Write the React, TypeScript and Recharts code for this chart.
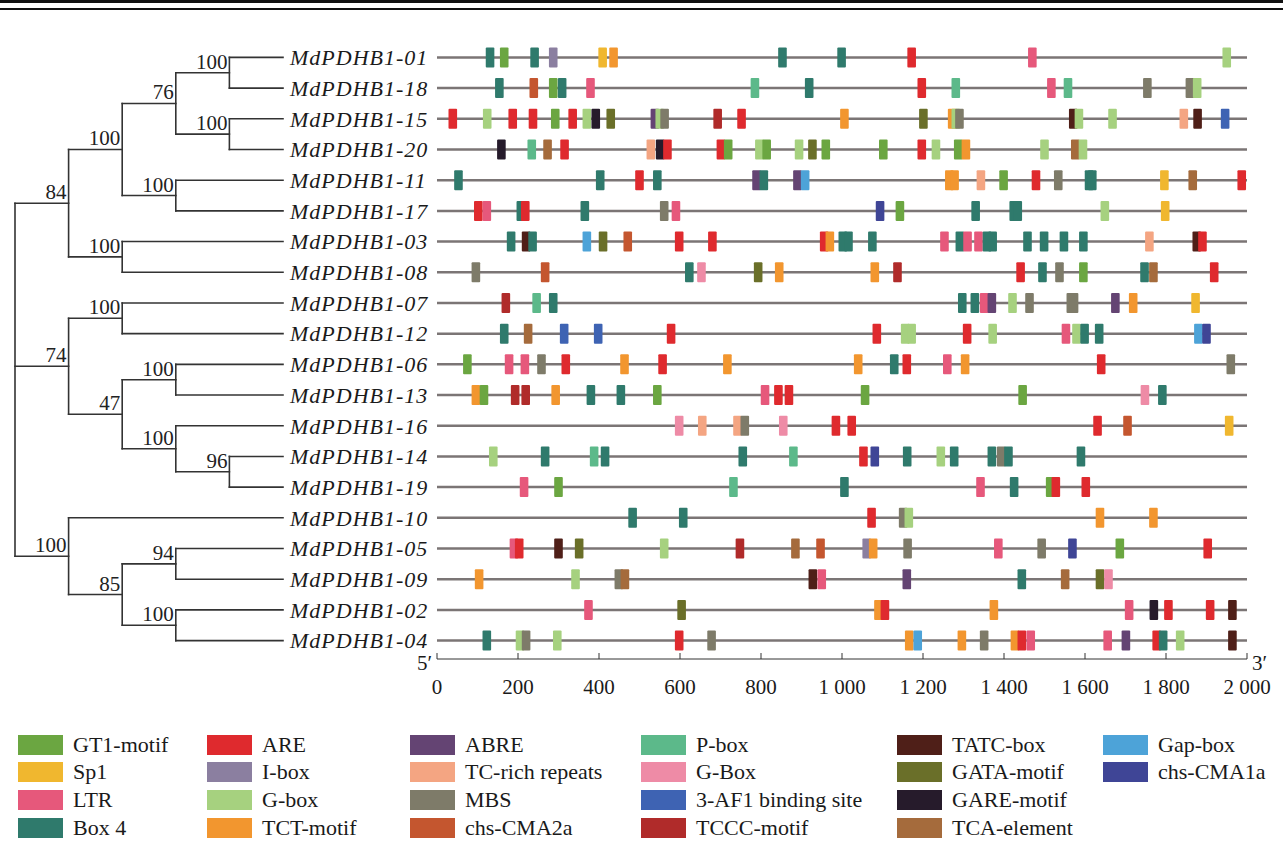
import React from "react";
import {
  ScatterChart,
  Scatter,
  XAxis,
  YAxis,
  CartesianGrid,
  ReferenceLine,
  ReferenceDot,
  Cell,
} from "recharts";

// gene order, top to bottom (tree order)
const GENES = ["01", "18", "15", "20", "11", "17", "03", "08", "07", "12", "06", "13", "16", "14", "19", "10", "05", "09", "02", "04"];

// cis-elements per promoter: [position (bp), element]
const G01 = [[131, "Box4"], [166, "GT1"], [241, "Box4"], [287, "Ibox"], [409, "Sp1"], [436, "TCT"], [853, "Box4"], [999, "Box4"], [1172, "ARE"], [1470, "LTR"], [1950, "Gbox"]];
const G18 = [[154, "Box4"], [239, "CMA2a"], [287, "GT1"], [309, "Box4"], [379, "LTR"], [785, "Pbox"], [919, "Box4"], [1197, "ARE"], [1281, "Pbox"], [1517, "LTR"], [1558, "Pbox"], [1754, "MBS"], [1859, "MBS"], [1877, "Gbox"]];
const G15 = [[39, "ARE"], [124, "Gbox"], [187, "ARE"], [237, "ARE"], [292, "GT1"], [335, "ARE"], [370, "Gbox"], [392, "GARE"], [429, "GATA"], [538, "ABRE"], [550, "Gbox"], [562, "MBS"], [693, "TCCC"], [752, "ARE"], [1006, "TCT"], [1201, "GATA"], [1272, "TCT"], [1281, "Gbox"], [1290, "MBS"], [1571, "TATC"], [1585, "Gbox"], [1668, "Gbox"], [1844, "TCrich"], [1878, "TATC"], [1946, "AF1"]];
const G20 = [[159, "GARE"], [234, "Pbox"], [273, "TCA"], [315, "ARE"], [528, "TCrich"], [551, "GARE"], [569, "ARE"], [701, "ARE"], [719, "GT1"], [796, "Gbox"], [814, "GT1"], [894, "Gbox"], [927, "GATA"], [960, "GT1"], [1102, "GT1"], [1197, "ARE"], [1232, "Gbox"], [1287, "GT1"], [1306, "TCT"], [1500, "Gbox"], [1576, "TCA"], [1595, "Gbox"]];
const G11 = [[53, "Box4"], [403, "Box4"], [500, "ARE"], [544, "Box4"], [789, "ABRE"], [807, "Box4"], [890, "ABRE"], [909, "Gapbox"], [1265, "TCT"], [1278, "TCT"], [1343, "TCrich"], [1399, "GT1"], [1479, "ARE"], [1534, "MBS"], [1610, "Box4"], [1618, "Box4"], [1796, "Sp1"], [1866, "TCA"], [1987, "ARE"]];
const G17 = [[102, "ARE"], [123, "LTR"], [207, "Box4"], [218, "ARE"], [365, "Box4"], [561, "MBS"], [590, "LTR"], [1094, "CMA1a"], [1143, "GT1"], [1330, "Box4"], [1424, "Box4"], [1434, "Box4"], [1649, "Gbox"], [1798, "Sp1"]];
const G03 = [[183, "Box4"], [220, "TATC"], [236, "Box4"], [370, "Gapbox"], [410, "GATA"], [471, "CMA2a"], [598, "ARE"], [680, "ARE"], [956, "ARE"], [970, "TCT"], [1002, "Box4"], [1016, "Box4"], [1075, "Box4"], [1253, "LTR"], [1291, "Box4"], [1310, "LTR"], [1337, "LTR"], [1358, "Box4"], [1372, "Box4"], [1458, "Box4"], [1499, "Box4"], [1548, "Box4"], [1596, "Box4"], [1759, "TCrich"], [1876, "TATC"], [1890, "ARE"]];
const G08 = [[96, "MBS"], [267, "CMA2a"], [623, "Box4"], [653, "GBox"], [793, "GATA"], [845, "TCT"], [1081, "TCT"], [1137, "TCCC"], [1441, "ARE"], [1495, "Box4"], [1537, "MBS"], [1596, "GT1"], [1747, "Box4"], [1769, "TCA"], [1919, "ARE"]];
const G07 = [[170, "TCCC"], [246, "Pbox"], [287, "Box4"], [1297, "Box4"], [1328, "Box4"], [1351, "LTR"], [1370, "ABRE"], [1421, "Gbox"], [1463, "MBS"], [1565, "MBS"], [1573, "MBS"], [1675, "ABRE"], [1719, "TCT"], [1873, "Sp1"]];
const G12 = [[166, "Box4"], [225, "TCA"], [314, "AF1"], [398, "AF1"], [578, "ARE"], [1086, "ARE"], [1156, "Gbox"], [1172, "Gbox"], [1309, "ARE"], [1372, "Gbox"], [1553, "LTR"], [1579, "Gbox"], [1599, "Box4"], [1635, "Box4"], [1880, "Gapbox"], [1900, "CMA1a"]];
const G06 = [[75, "GT1"], [178, "LTR"], [217, "LTR"], [258, "MBS"], [318, "ARE"], [463, "TCT"], [557, "ARE"], [717, "TCT"], [1040, "TCT"], [1129, "Box4"], [1160, "ARE"], [1260, "LTR"], [1304, "TCT"], [1640, "ARE"], [1960, "MBS"]];
const G13 = [[96, "TCT"], [116, "GT1"], [193, "TCCC"], [219, "TCCC"], [293, "TCT"], [380, "Box4"], [454, "Box4"], [544, "GT1"], [810, "LTR"], [843, "ARE"], [869, "ARE"], [1057, "GT1"], [1446, "GT1"], [1748, "GBox"], [1791, "Box4"]];
const G16 = [[598, "GBox"], [655, "TCrich"], [742, "TCrich"], [760, "MBS"], [855, "GBox"], [985, "ARE"], [1024, "ARE"], [1631, "ARE"], [1705, "CMA2a"], [1956, "Sp1"]];
const G14 = [[139, "Gbox"], [267, "Box4"], [388, "Pbox"], [415, "Box4"], [755, "Box4"], [880, "Pbox"], [1053, "ARE"], [1081, "CMA1a"], [1161, "Box4"], [1244, "Gbox"], [1277, "Box4"], [1370, "Box4"], [1393, "MBS"], [1411, "Box4"], [1590, "Box4"]];
const G19 = [[215, "LTR"], [300, "GT1"], [732, "Pbox"], [1006, "Box4"], [1342, "LTR"], [1425, "Box4"], [1528, "ARE"], [1514, "GT1"], [1602, "ARE"]];
const G10 = [[483, "Box4"], [608, "Box4"], [1073, "ARE"], [1151, "MBS"], [1165, "Gbox"], [1637, "TCT"], [1769, "TCT"]];
const G05 = [[190, "LTR"], [203, "ARE"], [300, "TATC"], [351, "GATA"], [561, "Gbox"], [748, "TCCC"], [885, "TCA"], [947, "CMA2a"], [1061, "Ibox"], [1077, "TCT"], [1162, "MBS"], [1386, "LTR"], [1493, "MBS"], [1569, "CMA1a"], [1686, "GT1"], [1903, "ARE"]];
const G09 = [[104, "TCT"], [342, "Gbox"], [449, "MBS"], [464, "TCA"], [928, "TATC"], [950, "LTR"], [1160, "ABRE"], [1444, "Box4"], [1551, "TCA"], [1637, "GATA"], [1658, "GBox"]];
const G02 = [[374, "LTR"], [604, "GATA"], [1090, "TCT"], [1106, "ARE"], [1375, "TCT"], [1709, "LTR"], [1770, "GARE"], [1806, "ARE"], [1909, "ARE"], [1964, "TATC"]];
const G04 = [[123, "Box4"], [205, "Gbox"], [220, "MBS"], [297, "Gbox"], [598, "ARE"], [678, "MBS"], [1166, "TCT"], [1187, "Gapbox"], [1296, "TCT"], [1351, "MBS"], [1427, "TCT"], [1444, "ARE"], [1466, "LTR"], [1656, "LTR"], [1701, "ABRE"], [1777, "ARE"], [1793, "Box4"], [1835, "Gbox"], [1964, "TATC"]];

const GENE_MOTIFS = [G01, G18, G15, G20, G11, G17, G03, G08, G07, G12, G06, G13, G16, G14, G19, G10, G05, G09, G02, G04];

const X_TICKS = [0, 200, 400, 600, 800, 1000, 1200, 1400, 1600, 1800, 2000];

// legend, column by column
const MOTIF_KEYS = ["GT1", "Sp1", "LTR", "Box4", "ARE", "Ibox", "Gbox", "TCT", "ABRE", "TCrich", "MBS", "CMA2a", "Pbox", "GBox", "AF1", "TCCC", "TATC", "GATA", "GARE", "TCA", "Gapbox", "CMA1a"];
const MOTIF_NAMES = ["GT1-motif", "Sp1", "LTR", "Box 4", "ARE", "I-box", "G-box", "TCT-motif", "ABRE", "TC-rich repeats", "MBS", "chs-CMA2a", "P-box", "G-Box", "3-AF1 binding site", "TCCC-motif", "TATC-box", "GATA-motif", "GARE-motif", "TCA-element", "Gap-box", "chs-CMA1a"];

// NJ tree, s = bootstrap
type TNode = { s?: number; c: (TNode | string)[] };
const TREE: TNode = {
  c: [
    { s: 84, c: [
      { s: 100, c: [
        { s: 76, c: [{ s: 100, c: ["01", "18"] }, { s: 100, c: ["15", "20"] }] },
        { s: 100, c: ["11", "17"] },
      ] },
      { s: 100, c: ["03", "08"] },
    ] },
    { s: 74, c: [
      { s: 100, c: ["07", "12"] },
      { s: 47, c: [{ s: 100, c: ["06", "13"] }, { s: 100, c: ["16", { s: 96, c: ["14", "19"] }] }] },
    ] },
    { s: 100, c: ["10", { s: 85, c: [{ s: 94, c: ["05", "09"] }, { s: 100, c: ["02", "04"] }] }] },
  ],
};

const COLORS: Record<string, string> = {
  GT1: "#6BA641", Sp1: "#F0B72F", LTR: "#E6587B", Box4: "#2F7A6C",
  ARE: "#DF2A2E", Ibox: "#8B7FA0", Gbox: "#A6D17F", TCT: "#F2962F",
  ABRE: "#644473", TCrich: "#F4A582", MBS: "#7E7B69", CMA2a: "#C4562F",
  Pbox: "#5CB98A", GBox: "#EE8BA6", AF1: "#3E63B3", TCCC: "#B02B2A",
  TATC: "#4F1F18", GATA: "#6A6F29", GARE: "#261B2B", TCA: "#A56B3C",
  Gapbox: "#4DA3D8", CMA1a: "#3F4596",
};

const FONT = '"Liberation Serif", "Times New Roman", serif';
const Y_DOMAIN: [number, number] = [-0.6, 19.6];
const ROWS = GENES.map((_, i) => i);

const POINTS = GENE_MOTIFS.flatMap((list, row) =>
  list
    .slice()
    .sort((a, b) => (a[0] as number) - (b[0] as number))
    .map(([x, t]) => ({ x: x as number, y: row, t: t as string }))
);

// tree layout: depth on x, row index on y
const LEAF_DEPTH = 5;
const SEGS: { x1: number; y1: number; x2: number; y2: number }[] = [];
const NODES: { x: number; y: number; s: number }[] = [];
function layout(n: TNode | string, depth: number): number {
  if (typeof n === "string") return GENES.indexOf(n);
  const ys = n.c.map((ch) => layout(ch, depth + 1));
  ys.forEach((cy, i) => {
    const x2 = typeof n.c[i] === "string" ? LEAF_DEPTH : depth + 1;
    SEGS.push({ x1: depth, y1: cy, x2, y2: cy });
  });
  SEGS.push({ x1: depth, y1: ys[0], x2: depth, y2: ys[ys.length - 1] });
  const y = (ys[0] + ys[ys.length - 1]) / 2;
  if (n.s !== undefined) NODES.push({ x: depth, y, s: n.s });
  return y;
}
layout(TREE, 0);

const fmtTick = (v: number) =>
  v >= 1000 ? `${Math.floor(v / 1000)} ${String(v % 1000).padStart(3, "0")}` : String(v);

const MotifBox = (p: any) => (
  <rect x={p.cx - 4.3} y={p.cy - 10} width={8.6} height={20} rx={1} fill={p.fill} />
);

const Support = (p: any) => (
  <text x={p.cx - 2} y={p.cy - 4} textAnchor="end" fontSize={21} fontFamily={FONT} fill="#222">
    {p.payload.s}
  </text>
);

const LEG_X = [18, 207, 410, 641, 897, 1103];
const LEG_Y = [734, 761, 789, 817];

export default function App() {
  return (
    <div style={{ position: "relative", width: 1283, height: 842, background: "#fff", fontFamily: FONT, overflow: "hidden" }}>
      <style>{`body{margin:0}`}</style>
      <div style={{ position: "absolute", left: 0, top: 0, width: 1283, height: 3, background: "#111" }} />
      <div style={{ position: "absolute", left: 0, top: 8, width: 1283, height: 1.5, background: "#111" }} />

      <div style={{ position: "absolute", left: 0, top: 0 }}>
        <ScatterChart width={437} height={700} margin={{ top: 39, right: 0, bottom: 41, left: 15 }}>
          <XAxis type="number" dataKey="x" domain={[0, LEAF_DEPTH]} hide />
          <YAxis
            type="number"
            dataKey="y"
            domain={Y_DOMAIN}
            reversed
            orientation="right"
            width={154}
            ticks={ROWS}
            interval={0}
            axisLine={false}
            tickLine={false}
            tickSize={0}
            tickMargin={7}
            tickFormatter={(v: number) => "MdPDHB1-" + GENES[v]}
            tick={{ fontSize: 22, fontStyle: "italic", fill: "#1a1a1a", fontFamily: FONT, letterSpacing: 1 } as any}
          />
          {SEGS.map((s, i) => (
            <ReferenceLine
              key={i}
              segment={[{ x: s.x1, y: s.y1 }, { x: s.x2, y: s.y2 }]}
              stroke="#333"
              strokeWidth={1.6}
              strokeLinecap="square"
            />
          ))}
          <Scatter data={NODES} shape={Support} isAnimationActive={false} />
        </ScatterChart>
      </div>

      <div style={{ position: "absolute", left: 0, top: 0 }}>
        <ScatterChart width={1283} height={700} margin={{ top: 39, right: 36, bottom: 1, left: 437 }}>
          <CartesianGrid vertical={false} horizontalValues={ROWS} stroke="#7b7575" strokeWidth={2.5} />
          <XAxis
            type="number"
            dataKey="x"
            domain={[0, 2000]}
            ticks={X_TICKS}
            interval={0}
            height={40}
            tickSize={-6}
            tickMargin={26}
            tickFormatter={fmtTick}
            stroke="#333"
            tick={{ fontSize: 21, fill: "#1a1a1a", fontFamily: FONT }}
          />
          <YAxis type="number" dataKey="y" domain={Y_DOMAIN} reversed ticks={ROWS} interval={0} hide />
          <ReferenceDot x={0} y={19.6} r={0} ifOverflow="visible"
            label={{ value: "5′", position: "left", dy: 4, fontSize: 21, fill: "#1a1a1a", fontFamily: FONT }} />
          <ReferenceDot x={2000} y={19.6} r={0} ifOverflow="visible"
            label={{ value: "3′", position: "right", dy: 4, fontSize: 21, fill: "#1a1a1a", fontFamily: FONT }} />
          <Scatter data={POINTS} shape={MotifBox} isAnimationActive={false}>
            {POINTS.map((p, i) => (
              <Cell key={i} fill={COLORS[p.t]} />
            ))}
          </Scatter>
        </ScatterChart>
      </div>

      {MOTIF_KEYS.map((k, i) => {
        const col = Math.floor(i / 4);
        const row = i % 4;
        return (
          <div key={k} style={{ position: "absolute", left: LEG_X[col], top: LEG_Y[row], height: 21, display: "flex", alignItems: "center", whiteSpace: "nowrap" }}>
            <div style={{ width: 45, height: 20, background: COLORS[k] }} />
            <span style={{ marginLeft: 10, fontSize: 22, color: "#1a1a1a", lineHeight: "21px" }}>{MOTIF_NAMES[i]}</span>
          </div>
        );
      })}
    </div>
  );
}
